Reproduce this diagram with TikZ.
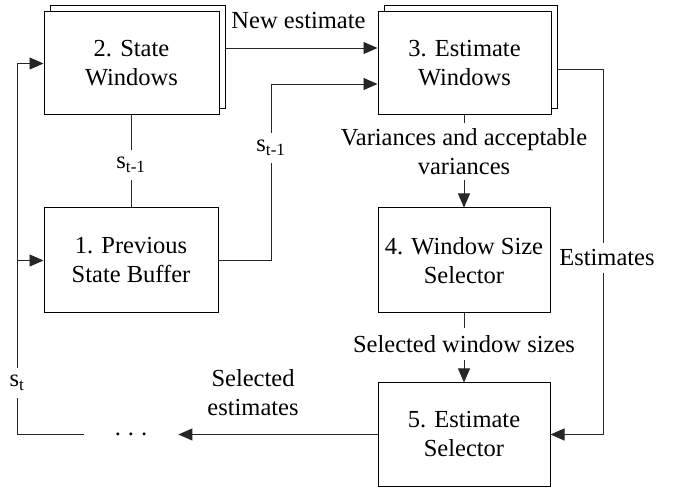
\documentclass[tikz,border=0pt]{standalone}
\usepackage{fontspec}
\setmainfont{Liberation Serif}
\usetikzlibrary{arrows.meta}
\begin{document}
\begin{tikzpicture}[x=1pt,y=-1pt,
  every node/.style={font=\fontsize{24.5}{29}\selectfont, align=center},
  box/.style={draw=black, line width=1pt, fill=white, inner sep=0pt},
  conn/.style={draw=black!85, line width=0.9pt},
  arr/.style={conn, -{Triangle[length=14pt,width=12pt]}},
  gap/.style={fill=white, inner xsep=2pt, inner ysep=7pt},
]
\useasboundingbox (0,0) rectangle (673,489);

% boxes
\node[box, minimum width=175pt, minimum height=103pt] (b2back) at (137.5,57.5) {};
\node[box, minimum width=175pt, minimum height=103pt] (b2) at (131.5,63.5) {2. State\\Windows};
\node[box, minimum width=173pt, minimum height=103pt] (b3back) at (470.5,57.5) {};
\node[box, minimum width=173pt, minimum height=103pt] (b3) at (464.5,63.5) {3. Estimate\\Windows};
\node[box, minimum width=174pt, minimum height=105pt] (b1) at (131,260.5) {1. Previous\\State Buffer};
\node[box, minimum width=172pt, minimum height=105pt] (b4) at (464,260.5) {4. Window Size\\Selector};
\node[box, minimum width=172pt, minimum height=103pt] (b5) at (464,434.5) {5. Estimate\\Selector};
\node[inner xsep=31pt] (dots) at (131,434.5) {.\hspace{7pt}.\hspace{7pt}.};

% helper coordinates
\coordinate (yNE) at (0,48);
\coordinate (xS) at (271,0);
\coordinate (yS) at (0,84);
\coordinate (xL) at (17,0);
\coordinate (xR) at (603,0);
\coordinate (yE) at (0,69);

% connectors
\draw[arr] (b2back.east |- yNE) -- (b3.west |- yNE);
\draw[arr] (b1.east) -- (b1.east -| xS) -- (xS |- yS) -- (b3.west |- yS);
\draw[conn] (b2.south) -- (b2.south |- b1.north);
\draw[arr] (b3.south -| b4.north) -- (b4.north);
\draw[arr] (b4.south) -- (b5.north);
\draw[arr] (b3back.east |- yE) -| (xR |- b5.east) -- (b5.east);
\draw[arr] (b5.west) -- (dots.east);
\draw[arr] (dots.west) -| (xL |- b2.west) -- (b2.west);
\draw[arr] (xL |- b1.west) -- (b1.west);

% labels
\node (lNE) at (298.5,21) {New estimate};
\node[gap] (lS1) at (271,148) {s\textsubscript{t-1}};
\node[gap] (lS2) at (131,165) {s\textsubscript{t-1}};
\node[gap] (lSt) at (17,383) {s\textsubscript{t}};
\node[gap, inner ysep=5pt] (lVar) at (464,151.5) {Variances and acceptable\\variances};
\node[gap] (lSel) at (464,344) {Selected window sizes};
\node[gap] (lEst) at (607,258) {Estimates};
\node (lSelEst) at (253,393) {Selected\\estimates};
\end{tikzpicture}
\end{document}
